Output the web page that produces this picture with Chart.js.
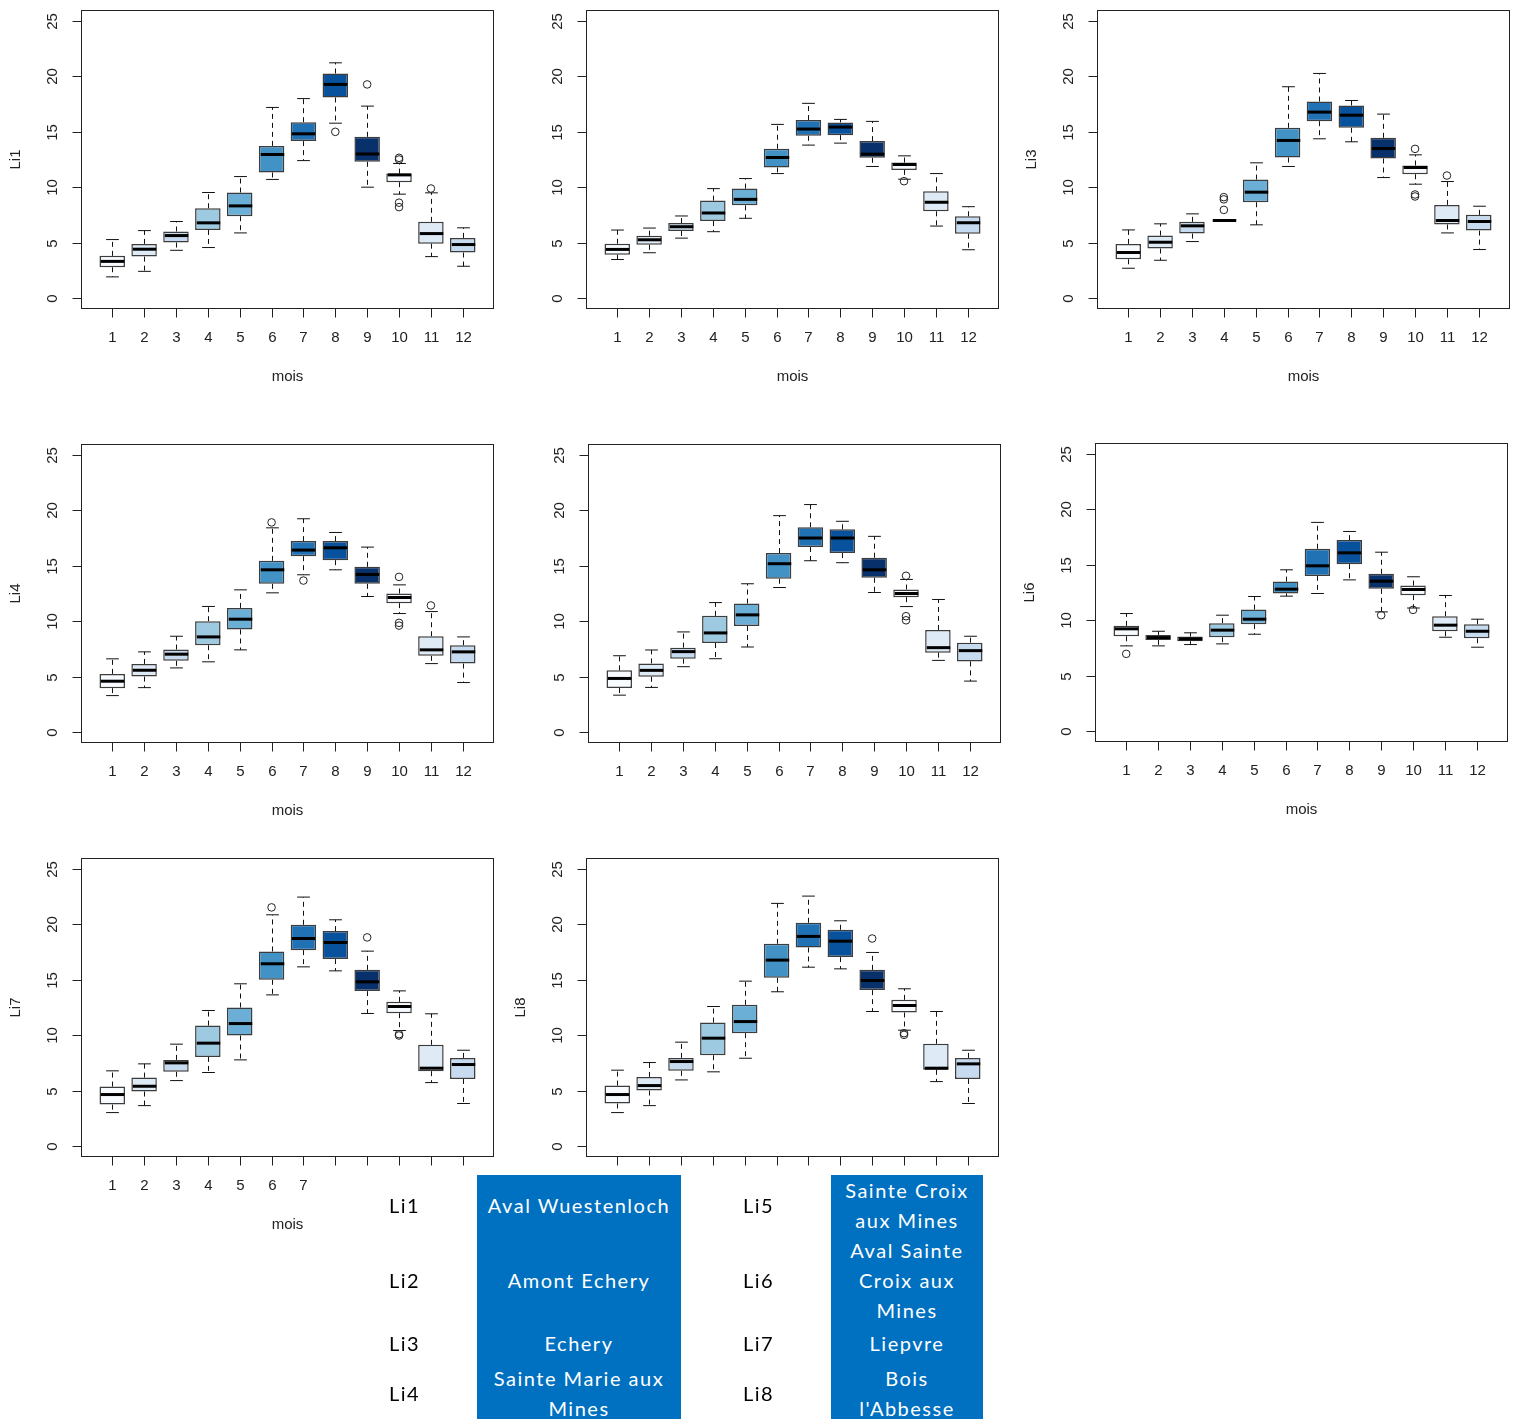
<!DOCTYPE html>
<html>
<head>
<meta charset="utf-8">
<script src="https://cdn.jsdelivr.net/npm/chart.js@4.4.0/dist/chart.umd.min.js"></script>
<style>
  body { margin: 0; background: #fff; width: 1519px; height: 1419px; position: relative; overflow: hidden; }
  canvas { position: absolute; }
  .cell { position: absolute; background: #0070C0; }
  .txt { position: absolute; font-family: Lato, 'Open Sans', sans-serif; font-size: 20px; line-height: 30px; letter-spacing: 1.5px; white-space: nowrap; text-align: center; }
  .key { color: #000; text-align: left; }
  .name { color: #fff; }
</style>
</head>
<body>
<div id="panels"></div>

<div class="cell" style="left:477px;top:1175px;width:204px;height:244px"></div>
<div class="cell" style="left:831px;top:1175px;width:152px;height:244px"></div>
<div id="table"></div>

<script>
// --- data (monthly stats: [low whisker, Q1, median, Q3, high whisker]) ---
const months = [1, 2, 3, 4, 5, 6, 7, 8, 9, 10, 11, 12];
const yTicks = [0, 5, 10, 15, 20, 25];
const blues = ['#F7FBFF', '#DEEBF7', '#C6DBEF', '#9ECAE1', '#6BAED6', '#4292C6', '#2171B5', '#08519C', '#08306B'];

const li1Stats = [
    [1.9, 2.77, 3.3, 3.8, 5.27], [2.4, 3.73, 4.4, 4.88, 6.08], [4.3, 5.0, 5.63, 6.0, 6.9],
    [4.55, 6.14, 6.78, 8.1, 9.52], [5.87, 7.38, 8.31, 9.52, 10.96], [10.7, 11.33, 12.95, 13.73, 17.2],
    [12.4, 14.16, 14.82, 15.87, 18.0], [15.78, 18.1, 19.28, 20.27, 21.23], [10.0, 12.29, 13.0, 14.55, 17.32],
    [9.37, 10.45, 11.11, 11.23, 12.14], [3.73, 4.9, 5.81, 6.87, 9.49], [2.86, 4.1, 4.82, 5.42, 6.33]
];
const li1Out = [[8, 15.0], [9, 19.28], [10, 12.5], [10, 12.65], [10, 8.6], [10, 8.2], [11, 9.88]];

const li2Stats = [
    [3.47, 3.9, 4.38, 4.89, 6.13], [4.08, 4.8, 5.25, 5.62, 6.31], [5.4, 6.04, 6.43, 6.76, 7.4],
    [5.98, 6.94, 7.67, 8.79, 9.87], [7.19, 8.36, 8.9, 9.87, 10.78], [11.23, 11.78, 12.68, 13.47, 15.67],
    [13.8, 14.64, 15.25, 16.06, 17.57], [13.98, 14.7, 15.43, 15.85, 16.12], [11.87, 12.65, 12.98, 14.16, 15.94],
    [10.72, 11.56, 12.05, 12.23, 12.83], [6.49, 7.82, 8.64, 9.63, 11.23], [4.35, 5.8, 6.79, 7.37, 8.24]
];
const li2Out = [[10, 10.54]];

const li3Stats = [
    [2.68, 3.49, 4.1, 4.88, 6.14], [3.4, 4.46, 5.03, 5.63, 6.69], [5.09, 5.81, 6.51, 6.87, 7.59],
    [6.99, 6.99, 6.99, 6.99, 6.99], [6.6, 8.64, 9.55, 10.69, 12.2], [11.87, 12.68, 14.22, 15.36, 19.07],
    [14.37, 15.96, 16.78, 17.74, 20.27], [14.1, 15.36, 16.5, 17.38, 17.83], [10.87, 12.59, 13.49, 14.46, 16.6],
    [10.27, 11.17, 11.78, 11.96, 12.92], [5.87, 6.63, 6.99, 8.4, 10.51], [4.37, 6.08, 6.9, 7.5, 8.28]
];
const li3Out = [[4, 7.95], [4, 8.9], [4, 9.1], [10, 13.46], [10, 9.34], [10, 9.16], [11, 11.05]];

const li4Stats = [
    [3.28, 3.95, 4.58, 5.24, 6.6], [4.0, 5.0, 5.57, 6.14, 7.23], [5.78, 6.42, 7.02, 7.44, 8.64],
    [6.33, 7.83, 8.58, 10.0, 11.33], [7.41, 9.25, 10.18, 11.2, 12.83], [12.56, 13.37, 14.64, 15.45, 18.43],
    [14.19, 15.87, 16.42, 17.23, 19.25], [14.64, 15.51, 16.63, 17.23, 18.01], [12.23, 13.37, 14.22, 14.91, 16.69],
    [10.69, 11.63, 12.14, 12.5, 13.28], [6.17, 6.87, 7.41, 8.64, 10.87], [4.46, 6.17, 7.23, 7.83, 8.58]
];
const li4Out = [[6, 18.92], [7, 13.67], [10, 14.0], [10, 9.85], [10, 9.6], [11, 11.42]];

const li5Stats = [
    [3.32, 3.96, 4.83, 5.56, 6.88], [4.02, 4.98, 5.56, 6.19, 7.4], [5.89, 6.61, 7.25, 7.61, 9.03],
    [6.61, 8.03, 8.94, 10.48, 11.68], [7.67, 9.57, 10.57, 11.59, 13.38], [13.04, 13.83, 15.19, 16.15, 19.53],
    [15.46, 16.7, 17.51, 18.48, 20.53], [15.28, 16.15, 17.51, 18.3, 19.02], [12.59, 13.92, 14.64, 15.73, 17.66],
    [11.32, 12.17, 12.5, 12.86, 13.77], [6.46, 7.16, 7.61, 9.21, 11.96], [4.59, 6.37, 7.34, 8.06, 8.64]
];
const li5Out = [[10, 14.1], [10, 10.45], [10, 10.08]];

const li6Stats = [
    [7.68, 8.55, 9.22, 9.49, 10.6], [7.68, 8.22, 8.43, 8.67, 9.0], [7.8, 8.1, 8.31, 8.52, 8.86],
    [7.86, 8.46, 9.1, 9.73, 10.45], [8.73, 9.64, 10.09, 10.96, 12.14], [12.17, 12.41, 12.8, 13.49, 14.55],
    [12.41, 14.0, 14.91, 16.45, 18.83], [13.64, 15.06, 16.08, 17.23, 18.01], [10.75, 12.83, 13.52, 14.19, 16.14],
    [11.1, 12.26, 12.77, 13.13, 13.92], [8.46, 9.0, 9.55, 10.36, 12.23], [7.56, 8.37, 9.0, 9.64, 10.09]
];
const li6Out = [[1, 6.96], [9, 10.45], [10, 10.93]];

const li7Stats = [
    [3.01, 3.73, 4.64, 5.36, 6.78], [3.64, 4.91, 5.39, 6.17, 7.41], [5.9, 6.69, 7.5, 7.77, 9.19],
    [6.63, 8.04, 9.28, 10.87, 12.23], [7.77, 9.97, 11.05, 12.5, 14.64], [13.64, 15.0, 16.45, 17.56, 20.87],
    [16.17, 17.68, 18.73, 19.97, 22.47], [15.81, 16.87, 18.37, 19.4, 20.42], [11.96, 13.98, 14.82, 15.9, 17.59],
    [10.42, 11.99, 12.59, 13.01, 14.0], [5.72, 6.75, 7.02, 9.13, 11.93], [3.83, 6.05, 7.35, 7.95, 8.64]
];
const li7Out = [[6, 21.54], [9, 18.83], [10, 10.09], [10, 9.97]];

const li8Stats = [
    [3.01, 3.83, 4.64, 5.45, 6.84], [3.64, 5.0, 5.45, 6.23, 7.53], [5.96, 6.78, 7.62, 7.95, 9.37],
    [6.69, 8.19, 9.73, 11.14, 12.59], [7.92, 10.18, 11.23, 12.74, 14.88], [13.92, 15.18, 16.78, 18.25, 21.9],
    [16.14, 17.92, 18.92, 20.15, 22.56], [15.99, 17.05, 18.49, 19.52, 20.33], [12.14, 14.07, 14.94, 15.9, 17.47],
    [10.45, 12.05, 12.68, 13.19, 14.19], [5.81, 6.87, 7.02, 9.22, 12.14], [3.83, 6.05, 7.41, 7.95, 8.64]
];
const li8Out = [[9, 18.73], [10, 10.18], [10, 10.03]];

const siteKeys = ['Li1', 'Li2', 'Li3', 'Li4', 'Li5', 'Li6', 'Li7', 'Li8'];
const siteNamesLeft = [['Aval Wuestenloch'], ['Amont Echery'], ['Echery'], ['Sainte Marie aux', 'Mines']];
const siteNamesRight = [['Sainte Croix', 'aux Mines'], ['Aval Sainte', 'Croix aux', 'Mines'], ['Liepvre'], ['Bois', "l'Abbesse"]];

// --- layout of the 8 panels (plot area top-left corner) ---
const panels = [
    { name: 'Li1', stats: li1Stats, out: li1Out, left: 81, top: 10, yTitle: true, xTitle: true, xLabels: 12 },
    { name: 'Li2', stats: li2Stats, out: li2Out, left: 586, top: 10, yTitle: false, xTitle: true, xLabels: 12 },
    { name: 'Li3', stats: li3Stats, out: li3Out, left: 1097, top: 10, yTitle: true, xTitle: true, xLabels: 12 },
    { name: 'Li4', stats: li4Stats, out: li4Out, left: 81, top: 444, yTitle: true, xTitle: true, xLabels: 12 },
    { name: 'Li5', stats: li5Stats, out: li5Out, left: 588, top: 444, yTitle: false, xTitle: false, xLabels: 12 },
    { name: 'Li6', stats: li6Stats, out: li6Out, left: 1095, top: 443, yTitle: true, xTitle: true, xLabels: 12 },
    { name: 'Li7', stats: li7Stats, out: li7Out, left: 81, top: 858, yTitle: true, xTitle: true, xLabels: 7 },
    { name: 'Li8', stats: li8Stats, out: li8Out, left: 586, top: 858, yTitle: true, xTitle: false, xLabels: 0 }
];

const PLOT_W = 413, PLOT_H = 299, PAD_L = 81, PAD_T = 10, CANVAS_W = 500, CANVAS_H = 400;
const axisFont = '15px "Liberation Sans", Arial, sans-serif';

// whiskers, staples and medians, R style
const rBoxplot = {
    id: 'rBoxplot',
    afterDatasetDraw(chart, args, opts) {
        if (args.index !== 0) return;
        const { ctx, scales: { x, y } } = chart;
        const seg = (x1, y1, x2, y2) => { ctx.beginPath(); ctx.moveTo(x1, y1); ctx.lineTo(x2, y2); ctx.stroke(); };
        ctx.save();
        ctx.strokeStyle = '#111';
        opts.stats.forEach((s, i) => {
            const m = months[i];
            const cx = Math.round(x.getPixelForValue(m)) + 0.5;
            const half = x.getPixelForValue(m + 0.4) - x.getPixelForValue(m);
            const st = half / 2;
            const py = s.map(v => y.getPixelForValue(v));
            ctx.lineWidth = 1;
            ctx.setLineDash([5, 4]);
            seg(cx, py[3], cx, py[4]);
            seg(cx, py[1], cx, py[0]);
            ctx.setLineDash([]);
            seg(cx - st, py[0], cx + st, py[0]);
            seg(cx - st, py[4], cx + st, py[4]);
            ctx.lineWidth = 3;
            ctx.strokeStyle = '#000';
            seg(cx - half + 1, py[2], cx + half - 1, py[2]);
            ctx.strokeStyle = '#111';
        });
        ctx.restore();
    }
};

// box frame, axes, tick labels and titles like base R graphics
const rAxes = {
    id: 'rAxes',
    afterDraw(chart, args, opts) {
        const { ctx, chartArea: a, scales: { x, y } } = chart;
        ctx.save();
        ctx.strokeStyle = '#222';
        ctx.fillStyle = '#222';
        ctx.lineWidth = 1;
        ctx.strokeRect(a.left + 0.5, a.top + 0.5, a.right - a.left - 1, a.bottom - a.top - 1);
        ctx.font = axisFont;
        ctx.textAlign = 'center';
        ctx.textBaseline = 'middle';

        // y axis
        const yl = a.left + 0.5;
        ctx.beginPath();
        ctx.moveTo(yl, y.getPixelForValue(yTicks[0]));
        ctx.lineTo(yl, y.getPixelForValue(yTicks[yTicks.length - 1]));
        ctx.stroke();
        yTicks.forEach(v => {
            const py = Math.round(y.getPixelForValue(v)) + 0.5;
            ctx.beginPath(); ctx.moveTo(yl, py); ctx.lineTo(yl - 9, py); ctx.stroke();
            ctx.save();
            ctx.translate(a.left - 28, py);
            ctx.rotate(-Math.PI / 2);
            ctx.fillText(String(v), 0, 0);
            ctx.restore();
        });

        // x axis
        const xb = a.bottom - 0.5;
        ctx.beginPath();
        ctx.moveTo(x.getPixelForValue(months[0]), xb);
        ctx.lineTo(x.getPixelForValue(months[months.length - 1]), xb);
        ctx.stroke();
        months.forEach((m, i) => {
            const px = Math.round(x.getPixelForValue(m)) + 0.5;
            ctx.beginPath(); ctx.moveTo(px, xb); ctx.lineTo(px, xb + 9); ctx.stroke();
            if (i < opts.xLabels) ctx.fillText(String(m), px, a.bottom + 29);
        });

        if (opts.xTitle) ctx.fillText('mois', (a.left + a.right) / 2, a.bottom + 68);
        if (opts.yTitle) {
            ctx.save();
            ctx.translate(a.left - 65, (a.top + a.bottom) / 2);
            ctx.rotate(-Math.PI / 2);
            ctx.fillText(opts.name, 0, 0);
            ctx.restore();
        }
        ctx.restore();
    }
};

const holder = document.getElementById('panels');
panels.forEach(p => {
    const cv = document.createElement('canvas');
    cv.width = CANVAS_W;
    cv.height = CANVAS_H;
    cv.style.left = (p.left - PAD_L) + 'px';
    cv.style.top = (p.top - PAD_T) + 'px';
    cv.style.width = CANVAS_W + 'px';
    cv.style.height = CANVAS_H + 'px';
    holder.appendChild(cv);

    new Chart(cv, {
        type: 'bar',
        data: {
            datasets: [
                {
                    type: 'bar',
                    order: 1,
                    data: p.stats.map((s, i) => ({ x: months[i], y: [s[1], s[3]] })),
                    backgroundColor: months.map((m, i) => blues[i % blues.length]),
                    borderColor: '#3c3c3c',
                    borderWidth: 1.5,
                    borderSkipped: false,
                    barPercentage: 0.8,
                    categoryPercentage: 1.0
                },
                {
                    type: 'scatter',
                    order: 0,
                    data: p.out.map(o => ({ x: o[0], y: o[1] })),
                    pointStyle: 'circle',
                    pointRadius: 3.8,
                    borderColor: '#222',
                    borderWidth: 1,
                    backgroundColor: 'rgba(0,0,0,0)'
                }
            ]
        },
        options: {
            responsive: false,
            devicePixelRatio: 1,
            animation: false,
            events: [],
            layout: { padding: { left: PAD_L, top: PAD_T, right: CANVAS_W - PAD_L - PLOT_W, bottom: CANVAS_H - PAD_T - PLOT_H } },
            scales: {
                x: {
                    type: 'linear', display: false, offset: false, min: 0.02, max: 12.98,
                    afterBuildTicks: s => { s.ticks = months.map(v => ({ value: v })); }
                },
                y: {
                    type: 'linear', display: false, min: -1, max: 26,
                    afterBuildTicks: s => { s.ticks = yTicks.map(v => ({ value: v })); }
                }
            },
            plugins: {
                legend: { display: false },
                tooltip: { enabled: false },
                rBoxplot: { stats: p.stats },
                rAxes: { name: p.name, yTitle: p.yTitle, xTitle: p.xTitle, xLabels: p.xLabels }
            }
        },
        plugins: [rBoxplot, rAxes]
    });
});

// legend table under the panels
const table = document.getElementById('table');
function addText(txt, cls, left, width, centerY) {
    const d = document.createElement('div');
    d.className = 'txt ' + cls;
    d.textContent = txt;
    d.style.left = left + 'px';
    d.style.width = width + 'px';
    d.style.top = (centerY - 15) + 'px';
    table.appendChild(d);
}
const rowCenters = [1205, 1280, 1343, 1393];
siteKeys.slice(0, 4).forEach((k, i) => addText(k, 'key', 389, 40, rowCenters[i]));
siteKeys.slice(4).forEach((k, i) => addText(k, 'key', 743, 40, rowCenters[i]));
siteNamesLeft.forEach((lines, i) => {
    const y0 = rowCenters[i] - (lines.length - 1) * 15;
    lines.forEach((t, j) => addText(t, 'name', 477, 204, y0 + j * 30));
});
siteNamesRight.forEach((lines, i) => {
    const y0 = rowCenters[i] - (lines.length - 1) * 15;
    lines.forEach((t, j) => addText(t, 'name', 831, 152, y0 + j * 30));
});
</script>
</body>
</html>
